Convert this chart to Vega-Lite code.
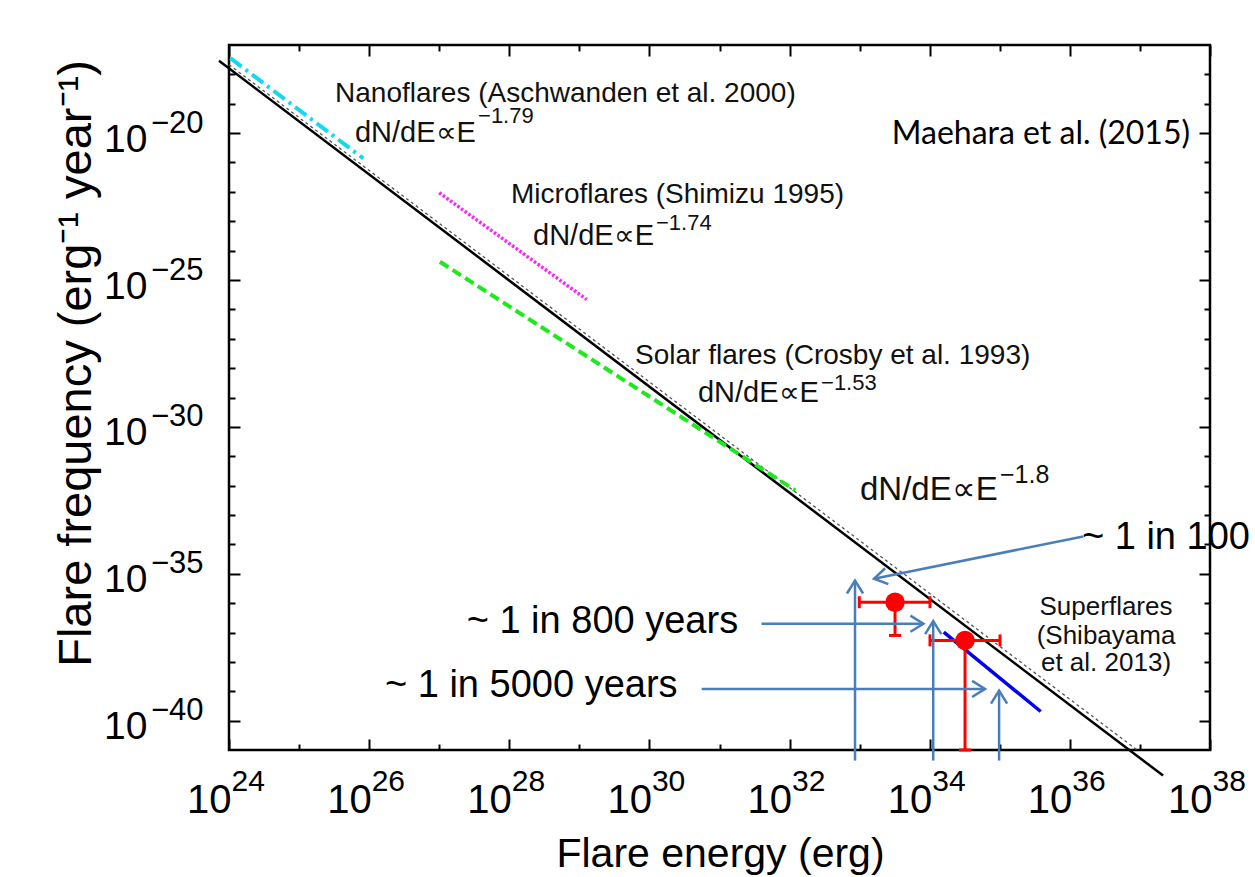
{
  "$schema": "https://vega.github.io/schema/vega-lite/v6.json",
  "autosize": {"type": "none"},
  "padding": {"left": 229, "top": 45, "right": 45, "bottom": 127},
  "width": 981,
  "height": 705,
  "background": "white",
  "config": {
    "view": {"stroke": "black", "strokeWidth": 2.5},
    "axis": {"domain": false, "grid": false, "labelFont": "Liberation Sans", "titleFont": "Liberation Sans", "labelColor": "#000", "titleColor": "#000", "tickColor": "#000", "labelFlush": false, "labelOverlap": false},
    "text": {"font": "Liberation Sans", "color": "#000"}
  },
  "datasets": {
    "curves": [
      {"s": "fit", "E": 23.857, "F": -17.535}, {"s": "fit", "E": 37.33, "F": -41.87},
      {"s": "fitdot", "E": 24.0, "F": -17.67}, {"s": "fitdot", "E": 36.96, "F": -41.0},
      {"s": "nano", "E": 24.02, "F": -17.45}, {"s": "nano", "E": 25.916, "F": -20.86},
      {"s": "micro", "E": 27.0, "F": -22.03}, {"s": "micro", "E": 29.105, "F": -25.665},
      {"s": "solar", "E": 27.01, "F": -24.38}, {"s": "solar", "E": 32.08, "F": -32.16},
      {"s": "super", "E": 34.2, "F": -36.99}, {"s": "super", "E": 35.584, "F": -39.69}
    ],
    "err": [
      {"E": 32.995, "F": -35.97, "E2": 34.004, "F2": -35.97},
      {"E": 33.505, "F": -35.97, "E2": 33.505, "F2": -37.1},
      {"E": 34.004, "F": -37.27, "E2": 35.003, "F2": -37.27},
      {"E": 34.504, "F": -37.27, "E2": 34.504, "F2": -41.0}
    ],
    "capsV": [
      {"E": 32.995, "F": -35.97}, {"E": 34.004, "F": -35.97},
      {"E": 34.004, "F": -37.27}, {"E": 35.003, "F": -37.27}
    ],
    "capsH": [
      {"E": 33.505, "F": -37.1}, {"E": 34.504, "F": -41.0}
    ],
    "stars": [
      {"E": 33.505, "F": -35.97}, {"E": 34.504, "F": -37.27}
    ],
    "arrows": [
      {"dir": "up", "E": 32.934, "F": -41.36, "E2": 32.934, "F2": -35.23},
      {"dir": "up", "E": 34.05, "F": -41.36, "E2": 34.05, "F2": -36.61},
      {"dir": "up", "E": 34.99, "F": -41.36, "E2": 34.99, "F2": -38.98},
      {"dir": "right", "E": 31.6, "F": -36.7, "E2": 33.91, "F2": -36.7},
      {"dir": "right", "E": 30.746, "F": -38.92, "E2": 34.79, "F2": -38.92},
      {"dir": "diag", "E": 36.19, "F": -33.73, "E2": 33.205, "F2": -35.17}
    ],
    "labels": [
      {"g": "ann", "E": 25.513, "F": -18.932, "t": "Nanoflares (Aschwanden et al. 2000)"},
      {"g": "ann", "E": 28.025, "F": -22.394, "t": "Microflares (Shimizu 1995)"},
      {"g": "ann", "E": 29.794, "F": -27.845, "t": "Solar flares (Crosby et al. 1993)"},
      {"g": "law", "E": 25.798, "F": -20.305, "t": "dN/dE∝E"},
      {"g": "law", "E": 28.339, "F": -23.814, "t": "dN/dE∝E"},
      {"g": "law", "E": 30.693, "F": -29.153, "t": "dN/dE∝E"},
      {"g": "sup", "E": 27.554, "F": -19.658, "t": "−1.79"},
      {"g": "sup", "E": 30.094, "F": -23.303, "t": "−1.74"},
      {"g": "sup", "E": 32.449, "F": -28.75, "t": "−1.53"},
      {"g": "big", "E": 33.005, "F": -32.503, "t": "dN/dE∝E"},
      {"g": "bigsup", "E": 35.003, "F": -31.923, "t": "−1.8"},
      {"g": "superfl", "E": 36.516, "F": -36.42, "t": "Superflares"},
      {"g": "superfl", "E": 36.516, "F": -37.375, "t": "(Shibayama"},
      {"g": "superfl", "E": 36.516, "F": -38.295, "t": "et al. 2013)"},
      {"g": "cite", "E": 37.715, "F": -20.373, "t": "Maehara et al. (2015)"},
      {"g": "note", "E": 36.173, "F": -34.148, "t": "~ 1 in 100"},
      {"g": "note", "E": 27.392, "F": -37.034, "t": "~ 1 in 800 years"},
      {"g": "note", "E": 26.226, "F": -39.204, "t": "~ 1 in 5000 years"}
    ]
  },
  "resolve": {"axis": {"x": "independent", "y": "independent"}},
  "layer": [
    {
      "data": {"name": "curves"},
      "transform": [{"filter": "datum.s === 'fit'"}],
      "mark": {"type": "line", "color": "#000", "strokeWidth": 2.5},
      "encoding": {
        "x": {"field": "E", "type": "quantitative", "scale": {"domain": [24, 38], "nice": false, "zero": false},
          "axis": {"orient": "bottom", "values": [24, 26, 28, 30, 32, 34, 36, 38], "labelExpr": "'10'", "ticks": false, "labelFontSize": 40, "labelAlign": "right", "labelBaseline": "alphabetic", "labelPadding": 62, "labelOffset": 2,
            "title": "Flare energy (erg)", "titleFontSize": 41, "titleFontWeight": "normal", "titleX": 491, "titleY": 116, "titleBaseline": "alphabetic", "titleAlign": "center", "titleAngle": 0}},
        "y": {"field": "F", "type": "quantitative", "scale": {"domain": [-41, -17], "nice": false, "zero": false},
          "axis": {"orient": "left", "values": [-20, -25, -30, -35, -40], "labelExpr": "'10'", "ticks": false, "labelFontSize": 39, "labelAlign": "right", "labelBaseline": "alphabetic", "labelPadding": 82, "labelOffset": 18,
            "title": "Flare frequency (erg⁻¹ year⁻¹)", "titleFontSize": 47, "titleFontWeight": "normal", "titleAngle": 270, "titleX": -139, "titleY": 318, "titleBaseline": "alphabetic", "titleAlign": "center"}},
        "detail": {"field": "s"}
      }
    },
    {
      "data": {"name": "curves"},
      "transform": [{"filter": "datum.s === 'fitdot'"}],
      "mark": {"type": "line", "color": "#555", "strokeWidth": 1.3, "strokeDash": [3, 3]},
      "encoding": {
        "x": {"field": "E", "type": "quantitative", "scale": {"domain": [24, 38], "nice": false, "zero": false},
          "axis": {"orient": "bottom", "values": [24, 26, 28, 30, 32, 34, 36, 38], "labelExpr": "'' + datum.value", "ticks": false, "labelFontSize": 30, "labelAlign": "left", "labelBaseline": "alphabetic", "labelPadding": 40, "labelOffset": 2, "title": null}},
        "y": {"field": "F", "type": "quantitative", "scale": {"domain": [-41, -17], "nice": false, "zero": false},
          "axis": {"orient": "left", "values": [-20, -25, -30, -35, -40], "labelExpr": "'−' + abs(datum.value)", "ticks": false, "labelFontSize": 31, "labelAlign": "right", "labelBaseline": "alphabetic", "labelPadding": 26, "labelOffset": -1, "title": null}}
      }
    },
    {
      "data": {"name": "curves"},
      "transform": [{"filter": "datum.s === 'nano'"}],
      "mark": {"type": "line", "color": "#12d9ec", "strokeWidth": 4, "strokeDash": [14, 5, 3, 5]},
      "encoding": {
        "x": {"field": "E", "type": "quantitative", "scale": {"domain": [24, 38], "nice": false, "zero": false},
          "axis": {"orient": "bottom", "values": [24, 26, 28, 30, 32, 34, 36, 38], "labels": false, "tickSize": -11, "tickWidth": 2, "title": null}},
        "y": {"field": "F", "type": "quantitative", "scale": {"domain": [-41, -17], "nice": false, "zero": false},
          "axis": {"orient": "left", "values": [-20, -25, -30, -35, -40], "labels": false, "tickSize": -11, "tickWidth": 2, "title": null}}
      }
    },
    {
      "data": {"name": "curves"},
      "transform": [{"filter": "datum.s === 'micro'"}],
      "mark": {"type": "line", "color": "#ff22ff", "strokeWidth": 3.5, "strokeDash": [2.5, 2]},
      "encoding": {
        "x": {"field": "E", "type": "quantitative", "scale": {"domain": [24, 38], "nice": false, "zero": false},
          "axis": {"orient": "bottom", "values": [25, 27, 29, 31, 33, 35, 37], "labels": false, "tickSize": -6, "tickWidth": 2, "title": null}},
        "y": {"field": "F", "type": "quantitative", "scale": {"domain": [-41, -17], "nice": false, "zero": false},
          "axis": {"orient": "left", "values": [-18, -19, -21, -22, -23, -24, -26, -27, -28, -29, -31, -32, -33, -34, -36, -37, -38, -39], "labels": false, "tickSize": -6, "tickWidth": 2, "title": null}}
      }
    },
    {
      "data": {"name": "curves"},
      "transform": [{"filter": "datum.s === 'solar'"}],
      "mark": {"type": "line", "color": "#1ee81e", "strokeWidth": 4, "strokeDash": [10, 5]},
      "encoding": {
        "x": {"field": "E", "type": "quantitative", "scale": {"domain": [24, 38], "nice": false, "zero": false},
          "axis": {"orient": "top", "values": [24, 26, 28, 30, 32, 34, 36, 38], "labels": false, "tickSize": -11, "tickWidth": 2, "title": null}},
        "y": {"field": "F", "type": "quantitative", "scale": {"domain": [-41, -17], "nice": false, "zero": false},
          "axis": {"orient": "right", "values": [-20, -25, -30, -35, -40], "labels": false, "tickSize": -11, "tickWidth": 2, "title": null}}
      }
    },
    {
      "data": {"name": "curves"},
      "transform": [{"filter": "datum.s === 'super'"}],
      "mark": {"type": "line", "color": "#0000f0", "strokeWidth": 3.5},
      "encoding": {
        "x": {"field": "E", "type": "quantitative", "scale": {"domain": [24, 38], "nice": false, "zero": false},
          "axis": {"orient": "top", "values": [25, 27, 29, 31, 33, 35, 37], "labels": false, "tickSize": -6, "tickWidth": 2, "title": null}},
        "y": {"field": "F", "type": "quantitative", "scale": {"domain": [-41, -17], "nice": false, "zero": false},
          "axis": {"orient": "right", "values": [-18, -19, -21, -22, -23, -24, -26, -27, -28, -29, -31, -32, -33, -34, -36, -37, -38, -39], "labels": false, "tickSize": -6, "tickWidth": 2, "title": null}}
      }
    },
    {
      "data": {"name": "err"},
      "mark": {"type": "rule", "color": "#ff0000", "strokeWidth": 3},
      "encoding": {
        "x": {"field": "E", "type": "quantitative", "scale": {"domain": [24, 38], "nice": false, "zero": false}, "axis": null},
        "y": {"field": "F", "type": "quantitative", "scale": {"domain": [-41, -17], "nice": false, "zero": false}, "axis": null},
        "x2": {"field": "E2"},
        "y2": {"field": "F2"}
      }
    },
    {
      "data": {"name": "capsV"},
      "mark": {"type": "tick", "orient": "vertical", "color": "#ff0000", "size": 12, "thickness": 3, "opacity": 1},
      "encoding": {
        "x": {"field": "E", "type": "quantitative", "scale": {"domain": [24, 38], "nice": false, "zero": false}, "axis": null},
        "y": {"field": "F", "type": "quantitative", "scale": {"domain": [-41, -17], "nice": false, "zero": false}, "axis": null}
      }
    },
    {
      "data": {"name": "capsH"},
      "mark": {"type": "tick", "orient": "horizontal", "color": "#ff0000", "size": 12, "thickness": 3, "opacity": 1},
      "encoding": {
        "x": {"field": "E", "type": "quantitative", "scale": {"domain": [24, 38], "nice": false, "zero": false}, "axis": null},
        "y": {"field": "F", "type": "quantitative", "scale": {"domain": [-41, -17], "nice": false, "zero": false}, "axis": null}
      }
    },
    {
      "data": {"name": "stars"},
      "mark": {"type": "circle", "color": "#ff0000", "size": 380, "opacity": 1},
      "encoding": {
        "x": {"field": "E", "type": "quantitative", "scale": {"domain": [24, 38], "nice": false, "zero": false}, "axis": null},
        "y": {"field": "F", "type": "quantitative", "scale": {"domain": [-41, -17], "nice": false, "zero": false}, "axis": null}
      }
    },
    {
      "data": {"name": "arrows"},
      "mark": {"type": "rule", "color": "#4a7ebb", "strokeWidth": 2.5},
      "encoding": {
        "x": {"field": "E", "type": "quantitative", "scale": {"domain": [24, 38], "nice": false, "zero": false}, "axis": null},
        "y": {"field": "F", "type": "quantitative", "scale": {"domain": [-41, -17], "nice": false, "zero": false}, "axis": null},
        "x2": {"field": "E2"},
        "y2": {"field": "F2"}
      }
    },
    {
      "data": {"name": "arrows"},
      "transform": [{"filter": "datum.dir === 'up'"}],
      "mark": {"type": "point", "shape": "M-0.62,1L0,0L0.62,1", "size": 676, "filled": false, "color": "#4a7ebb", "strokeWidth": 2.5, "opacity": 1, "angle": 0},
      "encoding": {
        "x": {"field": "E2", "type": "quantitative", "scale": {"domain": [24, 38], "nice": false, "zero": false}, "axis": null},
        "y": {"field": "F2", "type": "quantitative", "scale": {"domain": [-41, -17], "nice": false, "zero": false}, "axis": null}
      }
    },
    {
      "data": {"name": "arrows"},
      "transform": [{"filter": "datum.dir === 'right'"}],
      "mark": {"type": "point", "shape": "M-0.62,1L0,0L0.62,1", "size": 676, "filled": false, "color": "#4a7ebb", "strokeWidth": 2.5, "opacity": 1, "angle": 90},
      "encoding": {
        "x": {"field": "E2", "type": "quantitative", "scale": {"domain": [24, 38], "nice": false, "zero": false}, "axis": null},
        "y": {"field": "F2", "type": "quantitative", "scale": {"domain": [-41, -17], "nice": false, "zero": false}, "axis": null}
      }
    },
    {
      "data": {"name": "arrows"},
      "transform": [{"filter": "datum.dir === 'diag'"}],
      "mark": {"type": "point", "shape": "M-0.62,1L0,0L0.62,1", "size": 676, "filled": false, "color": "#4a7ebb", "strokeWidth": 2.5, "opacity": 1, "angle": 258.6},
      "encoding": {
        "x": {"field": "E2", "type": "quantitative", "scale": {"domain": [24, 38], "nice": false, "zero": false}, "axis": null},
        "y": {"field": "F2", "type": "quantitative", "scale": {"domain": [-41, -17], "nice": false, "zero": false}, "axis": null}
      }
    },
    {
      "data": {"name": "labels"},
      "transform": [{"filter": "datum.g === 'ann'"}],
      "mark": {"type": "text", "align": "left", "baseline": "alphabetic", "fontSize": 28, "font": "Liberation Sans", "color": "#111"},
      "encoding": {
        "x": {"field": "E", "type": "quantitative", "scale": {"domain": [24, 38], "nice": false, "zero": false}, "axis": null},
        "y": {"field": "F", "type": "quantitative", "scale": {"domain": [-41, -17], "nice": false, "zero": false}, "axis": null},
        "text": {"field": "t"}
      }
    },
    {
      "data": {"name": "labels"},
      "transform": [{"filter": "datum.g === 'law'"}],
      "mark": {"type": "text", "align": "left", "baseline": "alphabetic", "fontSize": 29, "font": "Liberation Sans", "color": "#111"},
      "encoding": {
        "x": {"field": "E", "type": "quantitative", "scale": {"domain": [24, 38], "nice": false, "zero": false}, "axis": null},
        "y": {"field": "F", "type": "quantitative", "scale": {"domain": [-41, -17], "nice": false, "zero": false}, "axis": null},
        "text": {"field": "t"}
      }
    },
    {
      "data": {"name": "labels"},
      "transform": [{"filter": "datum.g === 'sup'"}],
      "mark": {"type": "text", "align": "left", "baseline": "alphabetic", "fontSize": 22, "font": "Liberation Sans", "color": "#111"},
      "encoding": {
        "x": {"field": "E", "type": "quantitative", "scale": {"domain": [24, 38], "nice": false, "zero": false}, "axis": null},
        "y": {"field": "F", "type": "quantitative", "scale": {"domain": [-41, -17], "nice": false, "zero": false}, "axis": null},
        "text": {"field": "t"}
      }
    },
    {
      "data": {"name": "labels"},
      "transform": [{"filter": "datum.g === 'big'"}],
      "mark": {"type": "text", "align": "left", "baseline": "alphabetic", "fontSize": 33, "font": "Liberation Sans", "color": "#111"},
      "encoding": {
        "x": {"field": "E", "type": "quantitative", "scale": {"domain": [24, 38], "nice": false, "zero": false}, "axis": null},
        "y": {"field": "F", "type": "quantitative", "scale": {"domain": [-41, -17], "nice": false, "zero": false}, "axis": null},
        "text": {"field": "t"}
      }
    },
    {
      "data": {"name": "labels"},
      "transform": [{"filter": "datum.g === 'bigsup'"}],
      "mark": {"type": "text", "align": "left", "baseline": "alphabetic", "fontSize": 25, "font": "Liberation Sans", "color": "#111"},
      "encoding": {
        "x": {"field": "E", "type": "quantitative", "scale": {"domain": [24, 38], "nice": false, "zero": false}, "axis": null},
        "y": {"field": "F", "type": "quantitative", "scale": {"domain": [-41, -17], "nice": false, "zero": false}, "axis": null},
        "text": {"field": "t"}
      }
    },
    {
      "data": {"name": "labels"},
      "transform": [{"filter": "datum.g === 'superfl'"}],
      "mark": {"type": "text", "align": "center", "baseline": "alphabetic", "fontSize": 26, "font": "Liberation Sans", "color": "#111"},
      "encoding": {
        "x": {"field": "E", "type": "quantitative", "scale": {"domain": [24, 38], "nice": false, "zero": false}, "axis": null},
        "y": {"field": "F", "type": "quantitative", "scale": {"domain": [-41, -17], "nice": false, "zero": false}, "axis": null},
        "text": {"field": "t"}
      }
    },
    {
      "data": {"name": "labels"},
      "transform": [{"filter": "datum.g === 'cite'"}],
      "mark": {"type": "text", "align": "right", "baseline": "alphabetic", "fontSize": 32, "font": "Lato", "color": "#000"},
      "encoding": {
        "x": {"field": "E", "type": "quantitative", "scale": {"domain": [24, 38], "nice": false, "zero": false}, "axis": null},
        "y": {"field": "F", "type": "quantitative", "scale": {"domain": [-41, -17], "nice": false, "zero": false}, "axis": null},
        "text": {"field": "t"}
      }
    },
    {
      "data": {"name": "labels"},
      "transform": [{"filter": "datum.g === 'note'"}],
      "mark": {"type": "text", "align": "left", "baseline": "alphabetic", "fontSize": 38, "font": "Liberation Sans", "color": "#000"},
      "encoding": {
        "x": {"field": "E", "type": "quantitative", "scale": {"domain": [24, 38], "nice": false, "zero": false}, "axis": null},
        "y": {"field": "F", "type": "quantitative", "scale": {"domain": [-41, -17], "nice": false, "zero": false}, "axis": null},
        "text": {"field": "t"}
      }
    }
  ]
}
